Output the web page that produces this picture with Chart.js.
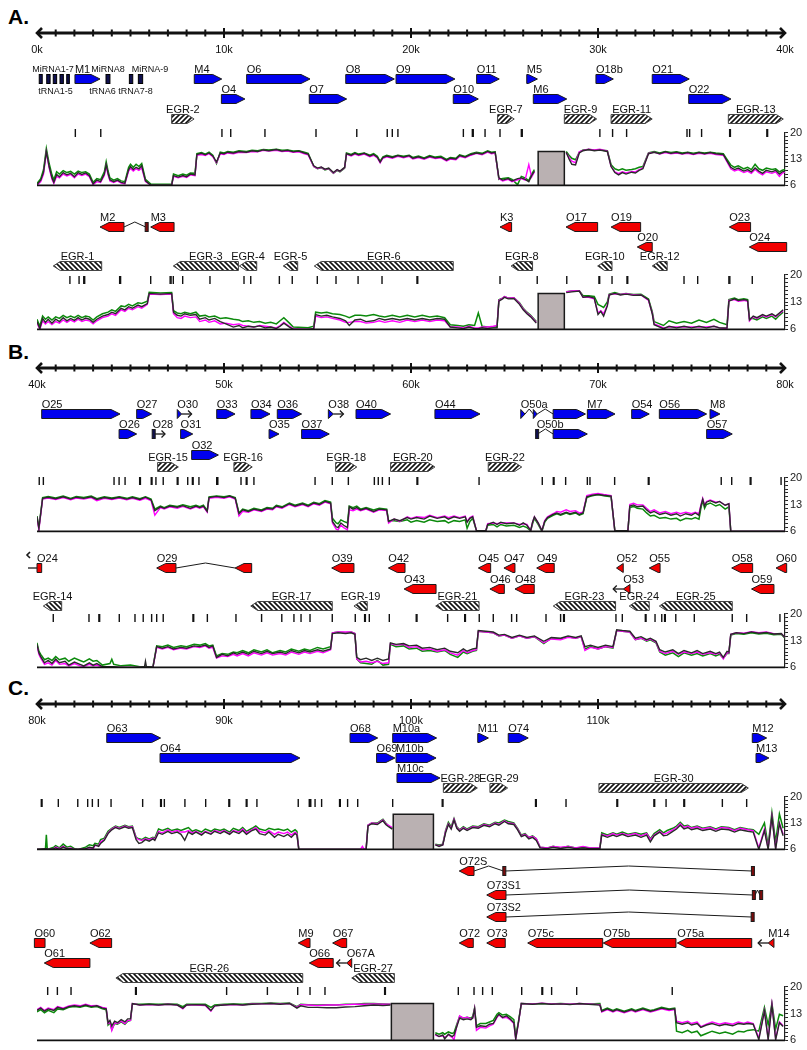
<!DOCTYPE html>
<html>
<head>
<meta charset="utf-8">
<script src="https://cdn.jsdelivr.net/npm/chart.js@4.4.1/dist/chart.umd.min.js"></script>
<style>
  body { margin: 0; background: #fff; }
  #page { position: relative; width: 807px; height: 1050px; background: #fff; overflow: hidden; }
  #page canvas { position: absolute; left: 0; }
  .panel { position: absolute; left: 8px; font: bold 21px "Liberation Sans", Arial, sans-serif; color: #000; }
</style>
</head>
<body>
<div id="page">
  <div class="panel" style="top:5px">A.</div>
  <div class="panel" style="top:340px">B.</div>
  <div class="panel" style="top:676px">C.</div>
</div>
<script>
// ---- data (positions in kb) ----
// genes: [name, row, start, end, (start, end ...), flags]
const fwdGenesA = [
  ['M1', 0, 2.03, 3.37], ['M4', 0, 8.41, 9.88], ['O6', 0, 11.21, 14.6], ['O8', 0, 16.51, 19.11],
  ['O9', 0, 19.2, 22.35], ['O11', 0, 23.51, 24.72], ['M5', 0, 26.19, 26.76], ['O18b', 0, 29.89, 30.82],
  ['O21', 0, 32.9, 34.88],
  ['O4', 1, 9.86, 11.12], ['O7', 1, 14.56, 16.56], ['O10', 1, 22.26, 23.6], ['M6', 1, 26.54, 28.33],
  ['O22', 1, 34.85, 37.11]
];
const rnaBoxesA = [[0.12, 0.28], [0.52, 0.7], [0.87, 1.05], [1.23, 1.41], [1.59, 1.73], [3.69, 3.9], [4.94, 5.12], [5.42, 5.65]];
const rnaLabelsA = [['MiRNA1-7', 0.85, 'above'], ['tRNA1-5', 0.99, 'below'], ['MiRNA8', 3.8, 'above'],
  ['tRNA6', 3.5, 'below'], ['MiRNA-9', 6.04, 'above'], ['tRNA7-8', 5.27, 'below']];
const fwdEgrA = [['EGR-2', 7.2, 8.4], ['EGR-7', 24.63, 25.52], ['EGR-9', 28.2, 29.93], ['EGR-11', 30.7, 32.9], ['EGR-13', 36.97, 39.91]];
const fwdMarksA = [2.05, 3.41, 9.89, 10.36, 12.19, 14.92, 17.1, 18.73, 19.0, 19.3, 22.8, 23.28, 23.33, 23.96, 24.76,
  25.9, 25.95, 30.1, 30.78, 31.53, 34.76, 34.9, 35.54, 37.04, 37.08, 39.03, 39.07];

const revGenesA = [
  ['M2', 0, 3.37, 4.65, 5.81, 5.92], ['M3', 0, 6.08, 7.33], ['K3', 0, 24.76, 25.38], ['O17', 0, 28.29, 29.98],
  ['O19', 0, 30.7, 32.28], ['O23', 0, 37.02, 38.16],
  ['O20', 1, 32.1, 32.9], ['O24', 1, 38.09, 40.09]
];
const revEgrA = [['EGR-1', 0.87, 3.46], ['EGR-3', 7.29, 10.77], ['EGR-4', 10.82, 11.75], ['EGR-5', 13.17, 13.94],
  ['EGR-6', 14.83, 22.26], ['EGR-8', 25.35, 26.5], ['EGR-10', 29.98, 30.75], ['EGR-12', 32.9, 33.7]];
const revMarksA = [1.76, 2.25, 2.5, 2.55, 4.42, 4.47, 6.08, 7.12, 7.17, 7.29, 7.79, 9.25, 11.07, 11.43, 12.96, 13.65,
  14.99, 15.99, 17.17, 18.45, 20.32, 20.36, 24.76, 26.75, 28.33, 30.05, 30.09, 30.75, 31.55, 31.59, 34.6, 35.33,
  37.0, 37.05, 38.25];

const fwdGenesB = [
  ['O25', 0, 40.25, 44.44], ['O27', 0, 45.33, 46.13], ['O30', 0, 47.5, 47.73, 'ptr'], ['O33', 0, 49.61, 50.59],
  ['O34', 0, 51.44, 52.46], ['O36', 0, 52.85, 54.15], ['O38', 0, 55.58, 55.85, 'ptr'], ['O40', 0, 57.06, 58.91],
  ['O44', 0, 61.28, 63.69], ['O50a', 0, 65.87, 66.1, 66.54, 66.75, 67.6, 69.33], ['M7', 0, 69.43, 70.91],
  ['O54', 0, 71.8, 72.74], ['O56', 0, 73.28, 75.81], ['M8', 0, 75.99, 76.52],
  ['O26', 1, 44.39, 45.33], ['O28', 1, 46.17, 46.31, 'ptr'], ['O31', 1, 47.68, 48.33], ['O35', 1, 52.41, 52.94],
  ['O37', 1, 54.15, 55.63], ['O50b', 1, 66.72, 66.77, 67.6, 69.43], ['O57', 1, 75.81, 77.18],
  ['O32', 2, 48.27, 49.7]
];
const fwdEgrB = [['EGR-15', 46.45, 47.56], ['EGR-16', 50.53, 51.51], ['EGR-18', 55.97, 57.1], ['EGR-20', 58.91, 61.28], ['EGR-22', 64.13, 65.92]];
const fwdMarksB = [40.12, 40.34, 44.12, 44.39, 44.71, 45.49, 45.53, 46.11, 46.15, 46.36, 46.75, 47.5, 47.54, 48.06,
  48.31, 48.35, 48.66, 49.61, 49.64, 49.67, 50.91, 51.19, 51.23, 51.6, 54.87, 55.79, 56.65, 58.04, 58.25, 58.47,
  58.84, 60.32, 60.36, 63.64, 67.02, 67.61, 67.65, 68.27, 69.43, 69.57, 70.89, 72.69, 72.73, 76.59, 77.15, 78.14,
  78.18, 79.79];

const revGenesB = [
  ['O24', 0, 40.0, 40.25, 'cont', 'stub'], ['O29', 0, 46.4, 47.43, 50.59, 51.48], ['O39', 0, 55.76, 56.95],
  ['O42', 0, 58.79, 59.68], ['O45', 0, 63.6, 64.26], ['O47', 0, 64.97, 65.56], ['O49', 0, 66.72, 67.66],
  ['O52', 0, 70.99, 71.35], ['O55', 0, 72.74, 73.32], ['O58', 0, 77.15, 78.27], ['O60', 0, 79.52, 80.09],
  ['O43', 1, 59.63, 61.34], ['O46', 1, 64.22, 64.99], ['O48', 1, 65.56, 66.59], ['O53', 1, 71.35, 71.71, 'ptr'],
  ['O59', 1, 78.21, 79.41]
];
const revEgrB = [['EGR-14', 40.34, 41.32], ['EGR-17', 51.43, 55.79], ['EGR-19', 56.95, 57.66], ['EGR-21', 61.32, 63.64],
  ['EGR-23', 67.61, 70.94], ['EGR-24', 71.67, 72.74], ['EGR-25', 73.28, 77.18]];
const revMarksB = [40.87, 42.78, 43.31, 43.35, 44.4, 45.24, 45.68, 46.13, 46.4, 46.75, 48.34, 48.38, 49.11, 50.64,
  52.01, 53.09, 53.74, 54.12, 54.6, 55.79, 57.02, 57.52, 57.56, 57.77, 58.84, 60.28, 60.32, 61.96, 62.87, 62.91,
  63.65, 64.4, 65.38, 65.65, 67.22, 68.0, 68.16, 68.2, 70.96, 71.3, 72.53, 72.57, 73.05, 73.41, 73.56, 73.6, 74.16,
  75.15, 77.18, 77.95, 79.73];

const fwdGenesC = [
  ['O63', 0, 83.73, 86.61], ['O68', 0, 96.74, 98.22], ['M10a', 0, 99.02, 101.37], ['M11', 0, 103.57, 104.14],
  ['O74', 0, 105.2, 106.27], ['M12', 0, 118.25, 119.02],
  ['O64', 1, 86.58, 94.06], ['O69', 1, 98.16, 99.14], ['M10b', 1, 99.2, 101.34], ['M13', 1, 118.45, 119.14],
  ['M10c', 2, 99.25, 101.55]
];
const fwdEgrC = [['EGR-28', 101.73, 103.55], ['EGR-29', 104.22, 105.17], ['EGR-30', 110.05, 118.04]];
const fwdMarksC = [80.23, 80.27, 81.14, 82.18, 82.71, 82.96, 83.28, 83.96, 85.65, 86.61, 86.65, 86.81, 87.91, 89.02,
  90.26, 90.3, 91.19, 91.23, 91.76, 93.97, 94.56, 94.6, 94.64, 94.87, 95.22, 96.18, 96.22, 96.61, 97.15, 99.02,
  101.67, 101.71, 106.66, 106.7, 108.29, 111.01, 111.05, 112.99, 113.03, 113.64, 114.59, 114.63, 116.65, 117.95];

const revGenesC = [
  ['O72S', 0, 102.58, 103.37, 104.94, 105.04, 118.23, 118.34],
  ['O73S1', 1, 104.05, 105.08, 118.27, 118.4, 118.66, 118.79],
  ['O73S2', 2, 104.05, 105.08, 118.2, 118.34],
  ['O60', 3, 79.86, 80.43, 'cont'], ['O62', 3, 82.83, 83.99], ['M9', 3, 93.97, 94.6], ['O67', 3, 95.81, 96.56],
  ['O72', 3, 102.58, 103.33], ['O73', 3, 104.05, 105.04], ['O75c', 3, 106.24, 110.25], ['O75b', 3, 110.28, 114.17],
  ['O75a', 3, 114.24, 118.22], ['M14', 3, 119.1, 119.41, 'ptr'],
  ['O61', 4, 80.39, 82.83], ['O66', 4, 94.56, 95.84], ['O67A', 4, 96.56, 96.83, 'ptr']
];
const revEgrC = [['EGR-26', 84.22, 94.21], ['EGR-27', 96.83, 99.11]];
const revMarksC = [80.57, 81.09, 81.82, 85.27, 85.31, 90.14, 92.32, 93.94, 94.6, 95.4, 98.59, 98.63, 102.53, 103.37,
  103.83, 104.35, 105.92, 107.0, 107.04, 107.52, 108.86, 113.97];

// profiles: [kb, black, green, magenta]
const fwdProfileA = [[0,6.2,6.5,6.0],[0.2,7.4,7.8,7.0],[0.35,9.5,10.2,9.0],[0.5,15.0,15.8,14.8],[0.65,11.0,11.8,10.6],
  [0.8,8.0,8.8,7.6],[0.9,6.8,7.5,6.5],[1.05,8.9,9.6,8.4],[1.2,8.3,9.0,8.0],[1.4,9.4,9.9,9.0],[1.6,8.8,9.4,8.5],
  [1.8,9.2,9.7,8.9],[2.0,8.3,9.0,8.0],[2.2,9.4,9.8,9.0],[2.4,8.9,9.4,8.6],[2.6,9.3,9.6,9.0],[2.8,8.6,9.0,8.3],
  [3.0,6.4,6.8,6.2],[3.2,7.4,7.8,7.0],[3.4,7.0,7.5,6.8],[3.6,9.0,9.6,8.6],[3.7,11.5,12.3,11.2],[3.8,9.2,9.8,8.8],
  [3.9,7.5,8.0,7.2],[4.1,7.0,7.4,6.8],[4.3,7.4,7.8,7.2],[4.5,6.8,7.2,6.6],[4.7,6.6,7.0,6.4],[4.9,10.2,10.8,9.8],
  [5.0,11.0,11.6,10.5],[5.15,10.2,10.8,9.8],[5.3,10.8,11.6,10.4],[5.45,10.4,11.0,10.0],[5.6,11.2,11.8,10.6],
  [5.8,7.2,7.6,7.0],[6.1,6.0,6.3,6.0],[7.2,6.0,6.3,6.0],[7.3,8.6,9.0,8.4],[7.55,8.2,8.6,8.0],[7.8,8.6,9.0,8.4],
  [8.0,8.3,8.7,8.1],[8.2,9.0,9.3,8.8],[8.45,8.8,9.2,8.6],[8.55,14.2,14.4,14.0],[8.8,14.5,14.7,14.2],[9.0,14.1,14.3,13.9],
  [9.2,14.6,14.8,14.4],[9.4,13.8,14.0,13.6],[9.6,12.2,11.8,12.0],[9.8,14.6,14.8,14.4],[10.0,14.4,14.6,14.2],
  [10.2,14.8,15.0,14.6],[10.5,14.6,14.8,14.4],[10.8,15.0,15.2,14.8],[11.2,14.8,15.0,14.7],[11.5,15.2,15.3,15.0],
  [11.8,15.0,15.2,14.9],[12.1,15.4,15.5,15.3],[12.4,15.2,15.4,15.1],[12.8,15.5,15.6,15.3],[13.1,15.1,15.3,15.0],
  [13.4,15.3,15.4,15.1],[13.7,14.9,15.1,14.8],[14.0,15.1,15.2,14.9],[14.3,14.6,14.8,14.4],[14.5,14.3,14.5,14.1],
  [14.8,11.2,11.0,11.0],[15.0,10.6,10.4,10.5],[15.2,10.9,10.7,10.8],[15.4,10.3,10.1,10.2],[15.6,10.6,10.4,10.5],
  [15.85,9.4,9.2,9.3],[16.05,10.2,10.0,10.1],[16.2,9.8,9.6,9.7],[16.45,10.8,10.6,10.7],[16.55,14.4,14.6,14.3],
  [16.8,14.0,14.2,13.8],[17.0,14.5,14.7,14.3],[17.2,14.1,14.3,13.9],[17.5,14.5,14.6,14.3],[17.8,13.8,14.0,13.6],
  [18.0,14.2,14.4,14.0],[18.2,13.5,13.7,13.3],[18.35,12.2,12.4,12.0],[18.5,13.4,13.6,13.2],[18.7,13.8,14.0,13.6],
  [19.0,13.4,13.6,13.2],[19.3,13.9,14.0,13.7],[19.6,13.5,13.7,13.3],[19.9,13.9,14.0,13.7],[20.1,13.2,13.4,13.0],
  [20.4,13.6,13.8,13.4],[20.7,13.1,13.3,12.9],[21.0,13.7,13.9,13.5],[21.3,13.3,13.5,13.1],[21.6,13.5,13.7,13.3],
  [21.9,12.7,12.9,12.5],[22.1,13.2,13.4,13.0],[22.4,13.0,13.2,12.8],[22.6,13.9,14.1,13.7],[22.9,13.5,13.7,13.3],
  [23.2,14.2,14.4,14.0],[23.5,14.6,14.8,14.5],[23.8,14.3,14.5,14.1],[24.1,15.0,15.2,14.8],[24.3,14.6,14.8,14.4],
  [24.5,14.8,14.9,14.6],[24.7,8.0,7.6,7.8],[24.9,7.4,7.8,7.2],[25.2,7.8,8.0,7.6],[25.4,7.2,7.6,7.0],[25.7,7.8,6.2,7.5],
  [25.9,8.0,8.4,7.8],[26.1,7.6,8.0,7.4],[26.3,7.0,7.3,11.5],[26.45,8.6,9.0,8.2],[26.6,9.8,10.2,9.6],[27.5,null,null,null],
  [28.3,14.8,15.0,14.6],[28.45,13.0,14.0,13.4],[28.6,11.6,13.2,12.4],[28.8,11.4,12.8,12.0],[29.0,14.6,14.8,14.9],
  [29.2,15.2,15.4,15.3],[29.5,15.5,15.5,15.6],[29.8,15.2,15.4,15.4],[30.1,15.4,15.4,15.6],[30.5,15.0,15.2,15.1],
  [30.7,11.0,11.5,11.0],[30.9,9.4,10.4,9.6],[31.1,8.8,10.0,9.1],[31.3,9.4,10.4,9.6],[31.5,9.0,10.0,9.3],
  [31.8,9.5,10.2,9.7],[32.0,9.3,10.4,9.6],[32.2,10.0,10.8,10.2],[32.4,10.4,11.0,10.6],[32.7,14.4,14.6,14.5],
  [33.0,14.8,15.0,14.8],[33.3,14.4,14.6,14.3],[33.6,14.9,15.0,14.7],[33.9,14.5,14.7,14.4],[34.2,14.8,14.9,14.6],
  [34.5,14.4,14.6,14.3],[34.8,14.7,14.8,14.5],[35.1,14.3,14.5,14.2],[35.4,14.7,14.8,14.5],[35.7,14.4,14.6,14.3],
  [36.0,14.7,14.8,14.5],[36.3,14.4,14.6,14.2],[36.7,14.2,14.4,14.0],[36.9,12.5,12.9,12.2],[37.1,10.8,11.4,10.4],
  [37.3,10.2,10.8,9.8],[37.5,10.6,11.2,10.2],[37.8,9.8,10.4,9.4],[38.0,10.2,10.8,9.8],[38.2,9.6,10.2,9.2],
  [38.4,10.6,11.6,10.2],[38.6,9.8,10.4,9.4],[38.8,9.2,10.0,8.8],[39.0,10.0,10.6,9.6],[39.3,9.6,10.2,9.2],
  [39.5,10.0,10.4,9.6],[39.7,9.0,9.6,8.4],[39.85,9.6,10.0,9.2],[40.0,9.8,10.2,9.6]];

const revProfileA = [[0,8.0,8.6,7.6],[0.15,6.2,6.8,6.0],[0.3,8.8,9.4,8.2],[0.45,7.8,8.6,7.4],[0.6,8.6,9.2,8.0],
  [0.8,7.6,8.4,7.2],[1.0,8.6,9.2,8.0],[1.2,8.0,8.8,7.6],[1.4,9.0,9.6,8.4],[1.6,8.2,9.0,7.8],[1.8,8.8,9.4,8.4],
  [2.0,8.3,9.0,7.9],[2.2,9.0,9.6,8.6],[2.4,8.4,9.0,8.0],[2.6,8.9,9.4,8.4],[2.8,8.6,9.2,8.2],[3.0,7.8,8.4,7.4],
  [3.2,8.6,9.2,8.2],[3.5,9.4,10.0,9.0],[3.8,9.8,10.4,9.4],[4.0,10.4,11.0,10.0],[4.2,10.0,10.6,9.6],[4.5,11.4,12.0,11.0],
  [4.7,11.0,11.8,10.6],[4.9,11.8,12.4,11.4],[5.1,11.4,12.0,11.0],[5.4,12.2,12.8,11.8],[5.6,11.8,12.6,11.4],
  [5.9,12.6,13.2,12.4],[6.0,15.2,15.5,15.0],[6.6,15.0,15.3,14.9],[7.2,15.2,15.4,15.0],[7.3,10.4,10.8,10.0],
  [7.5,9.6,10.2,9.0],[7.7,9.4,10.0,8.8],[7.9,10.0,10.4,9.4],[8.2,9.6,10.0,9.0],[8.5,9.8,10.4,9.2],[8.7,8.6,9.4,8.0],
  [9.0,9.0,9.6,8.4],[9.2,8.4,9.2,7.8],[9.5,8.8,9.4,8.2],[9.8,8.0,8.8,7.4],[10.1,7.4,9.0,7.6],[10.5,6.6,8.6,7.2],
  [10.8,7.0,8.4,7.4],[11.0,6.4,8.0,7.0],[11.3,6.8,8.2,6.8],[11.6,6.6,7.8,6.6],[11.9,6.9,8.0,7.0],[12.2,6.4,7.6,6.8],
  [12.5,6.6,7.8,6.6],[12.8,6.2,7.4,6.4],[13.0,6.8,8.2,7.0],[13.2,7.6,9.0,7.8],[13.5,6.6,7.6,6.8],[13.7,6.0,6.6,6.2],
  [14.5,6.0,6.4,6.0],[14.8,6.2,6.8,6.2],[14.9,9.8,10.4,9.4],[15.2,9.4,10.2,9.0],[15.5,9.6,10.4,9.2],[15.8,9.2,10.0,8.8],
  [16.2,8.8,9.8,8.4],[16.5,8.2,9.4,7.8],[16.7,7.0,9.0,7.8],[17.0,8.4,9.6,8.0],[17.3,8.6,9.6,8.0],[17.6,8.0,9.4,7.6],
  [18.0,8.2,9.8,7.8],[18.3,8.8,9.4,8.2],[18.6,8.4,9.2,7.8],[19.0,8.8,9.6,8.2],[19.4,8.4,9.2,7.8],[19.8,8.8,9.6,8.4],
  [20.2,8.4,9.2,8.0],[20.6,8.8,9.6,8.4],[21.0,8.4,9.2,8.0],[21.4,8.8,9.4,8.4],[21.8,8.6,9.0,8.2],[22.1,6.6,7.2,6.6],
  [22.5,6.4,7.0,6.6],[22.8,6.2,6.8,6.4],[23.1,6.6,7.2,6.8],[23.4,6.2,7.0,6.4],[23.6,6.2,10.2,6.4],[23.8,6.4,6.8,6.6],
  [24.1,6.2,6.6,6.6],[24.4,6.4,6.6,6.8],[24.6,6.4,6.6,7.0],[24.7,13.2,13.6,13.4],[24.9,13.8,14.0,14.0],
  [25.0,14.2,14.4,14.4],[25.2,13.8,14.0,14.0],[25.5,13.9,14.1,14.1],[25.8,12.4,12.8,12.6],[26.0,11.0,11.4,11.2],
  [26.2,10.0,10.4,10.2],[26.4,9.2,9.6,9.4],[26.7,7.6,8.0,7.8],[27.5,null,null,null],[28.3,15.4,15.6,15.6],
  [28.6,15.6,15.8,15.8],[29.0,15.8,15.9,15.9],[29.2,14.2,14.6,14.2],[29.5,14.4,14.6,14.2],[29.8,14.0,14.4,13.8],
  [30.0,9.8,12.4,10.2],[30.15,10.6,12.0,10.8],[30.3,9.4,11.6,10.0],[30.5,12.0,13.0,12.2],[30.6,14.8,15.0,14.9],
  [30.9,15.2,15.4,15.1],[31.2,14.8,15.0,14.9],[31.5,15.0,15.2,15.1],[31.9,14.7,14.9,14.8],[32.3,14.8,15.0,14.8],
  [32.7,13.6,13.8,13.4],[32.9,10.0,10.6,10.2],[33.0,7.2,8.0,7.4],[33.3,6.6,7.4,6.8],[33.5,6.2,7.0,6.4],
  [33.8,6.8,8.2,6.6],[34.2,6.4,7.6,6.6],[34.6,6.8,8.0,6.6],[35.0,6.4,7.6,6.6],[35.4,6.8,8.4,6.6],[35.8,6.4,7.8,6.6],
  [36.2,6.8,8.6,6.8],[36.5,6.4,7.8,6.4],[36.9,6.4,7.2,6.2],[37.0,13.2,13.6,13.4],[37.3,13.8,14.0,13.6],
  [37.5,13.4,13.6,13.2],[37.8,13.6,13.8,13.4],[38.0,13.4,13.6,13.2],[38.1,8.4,8.8,8.2],[38.3,9.4,8.8,9.2],
  [38.5,9.0,8.4,8.8],[38.8,9.8,9.2,9.6],[39.0,9.4,8.8,9.2],[39.3,10.0,9.4,9.8],[39.5,9.4,8.6,9.2],[39.7,10.2,9.6,10.0],
  [39.9,11.0,10.4,10.8]];

const fwdProfileB = [[40.0,9.8,10.0,9.6],[40.1,6.8,7.0,6.4],[40.3,14.6,14.8,14.4],[40.6,14.9,15.1,14.7],
  [41.0,14.5,14.7,14.3],[41.4,15.0,15.2,14.8],[41.8,14.4,14.6,14.2],[42.1,14.9,15.1,14.7],[42.5,14.6,14.8,14.4],
  [42.9,15.0,15.2,14.8],[43.2,14.3,14.5,14.0],[43.6,14.8,15.0,14.6],[44.0,14.5,14.7,14.3],[44.4,14.9,15.0,14.7],
  [44.8,14.4,14.6,14.2],[45.1,14.8,15.0,14.6],[45.5,14.3,14.5,14.1],[45.8,14.9,15.0,14.6],[46.1,14.2,14.4,14.0],
  [46.3,11.4,11.8,10.2],[46.6,12.4,12.6,12.2],[46.8,12.0,12.2,11.8],[47.1,12.6,12.8,12.4],[47.5,12.3,12.5,12.0],
  [47.8,12.7,12.9,12.5],[48.2,12.0,12.4,11.8],[48.5,12.6,12.8,12.4],[48.7,12.2,12.4,12.0],[48.9,12.6,12.8,12.4],
  [49.1,11.2,11.4,11.0],[49.2,14.8,15.0,14.6],[49.6,15.1,15.2,14.9],[50.0,14.8,15.0,14.6],[50.3,15.2,15.3,15.0],
  [50.6,14.6,14.8,14.4],[50.8,10.6,10.8,10.0],[51.0,11.6,11.8,11.2],[51.3,11.2,11.4,11.0],[51.6,11.8,12.0,11.6],
  [52.0,11.4,11.6,11.2],[52.3,12.0,12.2,11.8],[52.6,11.8,12.0,11.6],[52.8,12.6,12.8,12.4],[53.1,12.2,12.4,12.0],
  [53.5,13.2,13.4,13.0],[53.8,12.6,12.8,12.4],[54.2,13.2,13.4,13.0],[54.5,12.6,12.8,12.4],[54.8,13.4,13.6,13.2],
  [55.1,13.0,13.2,12.8],[55.4,13.8,14.0,13.6],[55.7,13.4,13.6,13.2],[55.8,8.6,9.4,8.2],[56.0,7.2,8.2,6.6],
  [56.1,7.0,8.0,6.4],[56.25,8.2,9.0,7.6],[56.4,7.6,8.6,7.0],[56.6,7.0,8.2,6.4],[56.7,12.4,12.6,11.6],
  [56.9,11.8,12.2,11.4],[57.1,12.2,12.6,11.8],[57.3,11.6,11.8,11.4],[57.6,12.0,12.2,11.8],[58.0,11.2,11.6,11.0],
  [58.3,11.8,12.0,11.6],[58.7,11.6,11.8,11.4],[58.8,8.6,8.8,8.2],[59.1,9.2,8.8,9.2],[59.4,8.8,8.6,8.6],
  [59.8,9.6,9.0,9.8],[60.0,9.2,8.4,9.4],[60.3,9.6,8.8,9.8],[60.7,9.2,8.4,9.6],[61.0,10.0,9.0,10.2],[61.4,9.4,8.6,9.6],
  [61.8,9.8,8.8,10.0],[62.0,9.2,8.2,9.6],[62.3,9.8,8.8,10.0],[62.6,9.4,8.6,9.6],[62.9,9.8,9.0,10.0],[63.0,8.4,6.8,8.6],
  [63.15,9.4,8.6,9.6],[63.3,9.8,9.4,10.0],[63.5,6.2,6.2,6.2],[64.0,6.2,6.0,6.2],[64.1,7.8,7.6,8.0],[64.4,8.4,7.8,8.2],
  [64.6,7.8,7.2,8.0],[64.8,8.4,7.8,8.2],[65.1,8.0,7.4,8.2],[65.5,8.2,7.6,8.2],[65.8,7.6,7.0,7.8],[66.0,8.2,7.4,8.0],
  [66.2,7.6,7.0,7.8],[66.4,6.2,6.2,6.2],[66.5,8.4,8.0,8.4],[66.6,9.8,9.4,9.8],[66.8,8.2,7.8,8.2],[67.0,6.2,6.0,6.2],
  [67.15,8.6,8.4,8.8],[67.3,9.6,9.4,9.8],[67.6,10.4,10.2,10.6],[67.8,10.8,10.6,11.2],[68.0,10.4,10.2,11.0],
  [68.3,11.0,10.8,11.6],[68.5,10.6,10.4,11.2],[68.8,11.0,10.8,11.4],[69.0,10.4,10.2,10.8],[69.2,10.8,10.6,11.0],
  [69.4,15.0,14.8,15.3],[69.7,15.4,15.3,15.7],[70.0,15.6,15.6,15.9],[70.3,15.4,15.3,15.6],[70.7,15.2,15.0,15.3],
  [70.9,6.2,6.2,6.0],[71.6,6.2,6.2,6.0],[71.7,12.6,12.2,13.0],[71.9,12.9,12.5,13.3],[72.1,12.4,12.0,12.9],
  [72.4,12.6,11.8,12.9],[72.6,11.6,10.8,12.0],[72.8,10.8,10.0,11.2],[73.0,11.2,10.2,11.6],[73.3,10.4,9.4,10.8],
  [73.6,10.8,9.6,11.2],[73.9,10.2,9.2,10.6],[74.2,10.6,9.4,11.0],[74.4,10.0,8.8,10.6],[74.7,10.6,9.4,11.0],
  [75.0,10.2,9.2,10.6],[75.2,10.8,9.6,11.0],[75.4,10.2,9.2,10.6],[75.5,12.6,12.0,12.8],[75.6,14.4,14.0,14.6],
  [75.7,12.6,12.0,12.8],[75.8,13.6,13.0,13.8],[76.0,14.0,13.4,14.2],[76.3,13.4,12.6,13.6],[76.5,13.8,13.0,13.8],
  [76.8,12.8,11.8,12.8],[77.0,13.2,12.4,13.2],[77.1,6.0,6.0,6.0],[80.0,6.0,6.0,6.0]];

const revProfileB = [[40.0,12.0,12.4,11.8],[40.1,9.8,10.2,9.4],[40.2,8.8,9.4,8.4],[40.4,7.2,8.0,6.8],[40.6,7.8,8.4,7.2],
  [40.8,7.0,7.8,6.6],[41.0,8.2,8.8,7.8],[41.2,7.2,8.0,6.8],[41.5,7.6,8.4,7.0],[41.7,6.6,7.6,6.4],[42.0,7.4,8.4,7.0],
  [42.3,6.8,7.8,6.4],[42.5,6.4,7.4,6.2],[42.8,7.2,8.2,6.8],[43.0,6.6,7.6,6.4],[43.2,7.0,7.8,6.6],[43.5,6.2,6.6,6.0],
  [43.9,6.2,7.0,6.0],[44.0,6.2,8.1,6.0],[44.1,6.2,6.8,6.0],[44.5,6.0,6.4,6.0],[45.0,6.0,6.6,6.0],[45.5,6.0,6.2,6.0],
  [45.75,6.2,6.2,6.0],[45.8,7.6,6.2,6.0],[45.85,6.2,6.2,6.0],[46.2,6.0,6.2,6.0],[46.4,11.4,11.6,11.2],
  [46.7,11.0,11.4,10.8],[47.0,11.4,11.8,11.2],[47.3,10.8,11.2,10.6],[47.7,11.2,11.6,11.0],[48.0,11.0,11.4,10.8],
  [48.4,11.6,12.0,11.4],[48.7,11.4,11.8,11.2],[49.0,11.8,12.2,11.6],[49.2,11.2,11.6,11.0],[49.4,11.6,11.8,11.2],
  [49.6,8.6,9.0,8.4],[49.9,9.4,9.6,9.0],[50.2,9.0,9.4,8.8],[50.5,9.8,10.0,9.4],[50.7,9.4,9.8,9.0],[51.0,10.0,10.4,9.6],
  [51.3,9.4,9.8,9.0],[51.6,10.2,10.6,9.8],[52.0,9.6,10.0,9.2],[52.3,10.2,10.6,9.8],[52.6,9.6,9.8,9.2],
  [53.0,10.0,10.4,9.6],[53.3,9.6,10.0,9.2],[53.6,10.4,10.8,10.0],[54.0,9.8,10.2,9.4],[54.3,10.4,10.8,10.0],
  [54.6,10.0,10.4,9.6],[55.0,10.6,11.2,10.2],[55.3,10.2,10.8,9.8],[55.7,10.8,11.4,10.6],[55.8,14.8,15.0,15.0],
  [56.1,15.0,15.2,15.2],[56.5,14.8,15.0,15.2],[56.8,15.0,15.2,15.2],[57.0,14.6,14.8,14.8],[57.1,8.6,8.2,8.2],
  [57.3,8.0,7.2,7.4],[57.6,8.4,7.0,7.6],[57.9,7.8,6.8,7.2],[58.2,8.4,7.8,7.6],[58.5,7.8,6.6,7.0],[58.8,8.2,6.8,7.2],
  [58.9,12.4,12.0,12.2],[59.2,12.0,11.4,11.8],[59.6,12.2,11.6,12.0],[59.9,11.6,10.8,11.2],[60.3,11.8,11.0,11.4],
  [60.6,11.0,10.2,10.6],[61.0,11.2,10.4,10.8],[61.4,10.6,10.0,10.2],[61.8,11.0,10.4,10.6],[62.1,10.2,9.4,9.8],
  [62.5,9.8,8.6,9.2],[62.8,10.8,10.0,10.4],[63.0,10.2,9.6,9.8],[63.3,10.8,10.2,10.4],[63.5,11.0,10.4,10.6],
  [63.6,15.6,15.4,15.4],[64.0,15.4,15.2,15.2],[64.4,15.2,15.0,15.0],[64.7,14.4,14.2,14.2],[65.0,14.6,14.4,14.4],
  [65.4,13.8,13.6,13.6],[65.8,14.4,14.2,14.2],[66.2,13.8,13.6,13.6],[66.6,14.2,14.0,14.0],[67.1,12.8,12.2,12.4],
  [67.5,13.8,13.6,13.4],[68.0,13.6,13.4,13.2],[68.4,14.2,14.0,13.8],[68.8,13.8,13.6,13.6],[69.1,14.2,14.0,14.0],
  [69.3,11.4,10.8,10.4],[69.6,11.8,11.4,11.2],[70.0,11.2,10.8,10.8],[70.4,11.8,11.4,11.4],[70.8,11.4,11.0,11.2],
  [71.0,15.8,15.6,15.6],[71.3,15.6,15.4,15.4],[71.7,15.4,15.2,15.2],[72.0,13.6,13.2,13.2],[72.3,14.0,13.6,13.6],
  [72.6,13.2,12.8,13.0],[72.8,13.6,13.2,13.4],[73.1,12.8,12.4,12.6],[73.3,10.6,10.0,10.2],[73.6,10.0,9.2,9.6],
  [74.0,10.6,9.8,10.2],[74.3,9.6,8.8,9.4],[74.6,10.4,9.8,10.0],[75.0,9.8,9.2,9.6],[75.3,10.4,9.6,10.0],
  [75.6,9.6,9.0,9.4],[76.0,10.2,9.6,9.8],[76.3,9.6,9.0,9.4],[76.5,10.0,9.4,9.8],[76.7,8.6,8.4,8.2],[76.9,10.2,9.6,9.8],
  [77.0,10.0,9.6,9.8],[77.1,14.6,14.4,14.6],[77.4,15.0,14.8,15.0],[77.8,14.8,14.6,14.9],[78.2,15.2,15.0,15.3],
  [78.6,14.9,14.7,15.0],[79.0,15.1,14.9,15.2],[79.4,14.7,14.5,14.8],[79.8,14.8,14.6,14.8],[80.0,13.8,13.6,13.8]];

const fwdProfileC = [[80.0,6.0,6.0,6.0],[80.45,6.2,6.0,6.0],[80.5,6.2,9.9,6.0],[80.55,6.0,6.0,6.0],[80.9,6.2,6.6,6.2],
  [81.0,6.4,7.0,6.6],[81.2,6.0,6.4,6.2],[81.4,6.6,7.4,6.8],[81.6,6.2,6.6,6.2],[81.8,6.2,6.8,6.4],[82.0,6.0,6.2,6.0],
  [82.2,6.0,6.0,6.0],[82.6,6.2,6.6,6.2],[82.8,6.6,7.2,6.4],[83.0,6.4,7.0,6.2],[83.1,7.2,7.6,7.0],[83.3,6.8,7.4,7.0],
  [83.4,7.6,8.6,8.0],[83.6,8.4,9.0,8.6],[83.8,10.2,10.8,10.4],[84.0,11.2,11.6,11.4],[84.2,11.8,12.2,12.0],
  [84.4,11.4,11.8,11.6],[84.7,12.0,12.4,12.2],[84.9,11.6,12.0,11.8],[85.1,11.8,12.2,12.0],[85.3,8.6,9.2,9.0],
  [85.45,7.6,8.8,8.6],[85.6,7.8,8.6,8.4],[85.8,8.6,9.2,8.8],[86.0,8.2,8.8,8.6],[86.2,8.8,9.2,9.0],[86.3,8.4,9.0,8.6],
  [86.5,10.4,11.4,10.8],[86.7,10.0,11.0,10.4],[87.0,10.8,11.6,11.2],[87.2,10.2,11.0,10.6],[87.5,10.6,11.4,11.0],
  [87.7,10.0,11.0,10.6],[87.9,8.4,11.4,10.6],[88.1,10.6,11.8,11.0],[88.3,10.0,10.8,10.4],[88.5,10.6,11.2,10.8],
  [88.8,9.8,10.6,10.0],[89.0,10.6,11.4,10.8],[89.3,10.0,10.8,10.2],[89.5,10.8,11.4,11.0],[89.8,10.2,11.0,10.6],
  [90.0,10.8,11.4,11.0],[90.3,10.0,10.6,10.2],[90.5,10.8,11.6,11.0],[90.8,10.2,11.0,10.6],[91.0,11.0,11.8,11.4],
  [91.2,10.0,10.8,10.4],[91.5,11.0,11.6,11.2],[91.7,11.4,12.2,11.8],[91.9,10.2,11.4,10.8],[92.2,9.8,11.0,10.4],
  [92.4,10.6,11.6,11.0],[92.7,9.2,11.2,10.0],[92.9,10.0,11.4,10.6],[93.2,9.4,11.0,10.2],[93.4,10.0,11.4,10.6],
  [93.6,9.2,10.6,9.8],[93.8,10.2,11.2,10.6],[93.9,9.8,10.8,10.2],[94.0,6.0,6.0,6.0],[97.3,6.0,6.0,6.0],
  [97.4,6.0,6.0,6.8],[97.5,6.0,6.0,6.0],[97.6,6.0,6.0,6.3],[97.7,12.2,12.4,12.4],[97.9,12.8,13.0,13.0],
  [98.2,12.6,13.0,12.8],[98.5,13.6,14.0,13.8],[98.65,12.6,13.0,12.8],[98.8,12.0,12.2,12.4],[99.0,11.4,11.6,11.8],
  [100.1,null,null,null],[101.3,7.2,7.4,7.2],[101.5,6.8,7.2,7.0],[101.7,7.2,7.4,7.2],[101.85,10.4,11.0,10.8],
  [102.0,12.6,13.2,12.8],[102.15,11.4,12.0,11.6],[102.3,13.8,14.2,14.0],[102.45,11.6,12.0,11.8],[102.6,10.8,11.2,11.0],
  [102.8,11.6,12.0,11.8],[103.0,11.0,11.4,11.2],[103.3,11.8,12.2,12.0],[103.6,11.6,12.0,11.8],[103.9,12.4,12.8,12.6],
  [104.2,12.0,12.4,12.2],[104.5,12.8,13.2,13.0],[104.7,12.4,13.0,12.6],[105.0,13.4,13.8,13.6],[105.2,12.8,13.4,13.0],
  [105.5,12.6,13.0,12.8],[105.7,11.2,11.6,11.4],[105.9,9.4,9.8,9.6],[106.1,9.8,10.2,10.0],[106.3,8.8,9.2,9.2],
  [106.5,9.2,9.6,9.4],[106.7,8.4,8.8,8.8],[106.9,6.4,6.6,6.6],[107.3,6.2,6.4,6.4],[107.6,6.6,6.8,6.8],
  [108.0,6.2,6.4,6.6],[108.4,6.6,6.8,6.8],[108.8,6.2,6.4,6.4],[109.2,6.4,6.6,6.8],[109.6,6.2,6.4,6.4],
  [110.1,6.2,6.4,6.4],[110.2,9.8,10.4,10.0],[110.5,9.2,9.8,9.6],[110.8,9.8,10.4,10.2],[111.0,9.4,10.0,9.8],
  [111.3,10.0,10.6,10.2],[111.6,9.4,10.0,9.8],[112.0,9.8,10.4,10.2],[112.3,9.2,10.0,9.6],[112.6,9.8,10.4,10.2],
  [112.8,8.0,8.8,8.6],[113.0,9.6,10.2,9.8],[113.3,10.6,11.2,10.8],[113.5,9.6,10.4,10.0],[113.7,9.8,11.0,10.4],
  [114.0,10.8,11.6,11.2],[114.2,11.4,12.2,11.8],[114.4,12.4,13.2,12.8],[114.6,11.4,12.2,11.8],[114.8,11.8,12.4,12.2],
  [115.0,11.2,11.8,11.6],[115.3,11.6,12.2,12.0],[115.6,11.0,11.6,11.4],[116.0,11.4,12.0,11.8],[116.3,10.8,11.4,11.2],
  [116.6,11.4,12.0,11.8],[117.0,11.2,11.8,11.6],[117.3,10.6,11.2,11.0],[117.6,11.2,11.8,11.6],[118.0,10.8,11.4,11.2],
  [118.3,10.6,11.2,11.0],[118.6,6.0,10.0,6.4],[118.9,11.0,13.0,11.4],[119.1,6.0,7.0,6.2],[119.3,14.6,15.8,14.8],
  [119.5,6.0,8.0,6.4],[119.7,12.8,15.4,13.0],[119.9,9.6,11.6,10.0]];

const revProfileC = [[80.0,13.8,13.4,14.0],[80.2,14.4,14.0,14.6],[80.4,13.6,13.2,13.8],[80.6,14.2,13.8,14.4],
  [80.9,13.8,13.2,14.0],[81.1,14.6,14.2,14.8],[81.4,14.2,14.0,14.4],[81.7,14.8,14.6,15.0],[82.0,15.0,14.8,15.2],
  [82.3,14.8,14.6,15.0],[82.6,15.2,15.0,15.4],[82.9,14.8,14.6,15.0],[83.2,15.0,14.8,15.1],[83.5,14.4,14.2,14.6],
  [83.7,14.2,14.0,14.4],[83.8,10.6,10.0,10.4],[83.9,11.2,10.6,10.8],[84.0,9.8,8.8,8.6],[84.15,11.0,10.4,10.6],
  [84.3,10.6,10.2,10.4],[84.5,11.4,10.8,11.0],[84.7,10.8,10.2,10.4],[84.85,11.6,11.0,11.2],[85.0,11.6,11.2,11.2],
  [85.1,15.6,15.4,15.6],[85.5,15.2,15.4,15.2],[86.0,15.4,15.5,15.3],[86.5,15.2,15.4,15.2],[87.0,15.4,15.5,15.4],
  [87.5,15.2,15.4,15.2],[87.8,14.4,14.8,14.2],[88.0,15.2,15.4,15.2],[88.5,15.3,15.4,15.2],[89.0,15.2,15.4,15.1],
  [89.3,13.8,14.6,13.6],[89.5,15.0,15.2,15.0],[90.0,15.2,15.4,15.2],[90.5,15.4,15.5,15.3],[91.0,15.2,15.4,15.2],
  [91.5,15.4,15.6,15.5],[92.0,15.5,15.6,15.5],[92.5,15.6,15.7,15.6],[93.0,15.4,15.6,15.5],[93.5,15.6,15.7,15.6],
  [93.9,14.4,14.8,14.6],[94.1,15.0,15.4,15.3],[94.5,14.6,15.3,15.2],[95.0,14.6,15.2,15.1],[95.5,14.5,15.3,15.2],
  [96.0,14.5,15.2,15.2],[96.5,14.7,15.4,15.3],[97.0,14.8,15.4,15.4],[97.5,15.0,15.6,15.4],[98.0,15.2,15.6,15.5],
  [98.5,15.1,15.5,15.4],[98.9,15.2,15.4,15.4],[100.1,null,null,null],[101.3,7.6,8.0,7.4],[101.5,7.0,7.6,7.0],
  [101.7,7.4,8.0,7.2],[101.8,6.4,7.6,6.8],[102.0,7.6,8.2,7.4],[102.2,7.0,7.8,6.8],[102.3,7.4,8.0,6.2],
  [102.45,9.6,10.2,9.8],[102.6,11.8,12.2,12.4],[102.8,11.4,11.8,11.8],[103.0,11.6,12.0,12.0],[103.2,11.4,11.8,11.6],
  [103.3,11.8,12.2,11.8],[103.4,14.2,14.4,14.3],[103.5,9.4,9.8,8.6],[103.7,9.8,10.4,9.4],[104.0,9.6,10.4,9.2],
  [104.2,10.2,10.8,9.8],[104.4,10.4,11.2,10.2],[104.6,12.2,12.8,12.0],[104.7,12.8,13.2,12.6],[104.9,12.0,12.6,11.8],
  [105.1,12.4,12.8,12.0],[105.3,11.6,12.2,11.4],[105.5,10.6,11.4,10.4],[105.6,6.4,7.0,6.2],[105.75,10.8,11.0,10.6],
  [105.9,15.6,15.6,15.6],[106.5,15.4,15.5,15.5],[107.0,15.6,15.6,15.7],[107.5,15.4,15.5,15.5],[108.0,15.5,15.6,15.5],
  [108.5,15.3,15.5,15.4],[109.0,15.6,15.5,15.6],[109.5,15.4,15.5,15.5],[110.1,15.2,15.6,15.3],[110.2,13.6,13.8,13.4],
  [110.5,14.2,14.4,14.0],[110.8,13.6,13.8,13.4],[111.0,14.0,14.2,13.8],[111.4,13.4,13.6,13.2],[111.8,14.0,14.2,13.8],
  [112.0,13.6,13.8,13.4],[112.4,14.2,14.4,14.0],[112.8,13.6,13.8,13.4],[113.0,13.8,14.0,13.6],[113.4,14.4,14.6,14.2],
  [113.8,14.0,14.2,13.8],[114.1,14.2,14.4,14.0],[114.2,10.6,8.4,11.0],[114.5,10.2,8.0,10.6],[114.8,10.6,8.6,11.0],
  [115.0,10.0,8.0,10.4],[115.3,10.4,8.4,10.8],[115.5,9.4,7.2,9.6],[115.8,10.0,7.8,10.2],[116.1,10.4,8.4,10.8],
  [116.5,9.8,7.8,10.2],[116.8,10.2,8.2,10.6],[117.2,9.8,7.6,10.2],[117.5,10.4,8.4,10.8],[117.8,10.2,8.2,10.4],
  [118.0,10.4,8.6,10.8],[118.3,10.2,8.8,10.4],[118.6,6.2,8.4,6.6],[118.9,13.6,14.6,13.8],[119.1,6.2,10.0,6.4],
  [119.3,15.2,15.6,15.4],[119.5,6.2,9.0,6.4],[119.7,10.6,12.8,10.8],[119.9,9.6,12.4,9.8]];

// sequence gaps: [start kb, end kb, height]
const fwdGapsA = [[26.8, 28.2, 15.0]];
const revGapsA = [[26.8, 28.2, 15.2]];
const fwdGapsC = [[99.05, 101.2, 15.3]];
const revGapsC = [[98.95, 101.2, 15.6]];

const yTicksShown = [6, 13, 20];

// ---- drawing ----
const FONT = '"Liberation Sans", Arial, sans-serif';
Chart.defaults.font.family = FONT;
const page = document.getElementById('page');
const BLUE = '#0000ee', NAVY = '#10104e', RED = '#f20000', MAROON = '#7a0b0b';
const LABEL_FONT = '11px ' + FONT;

function addCanvas(top, height) {
  const c = document.createElement('canvas');
  c.width = 807; c.height = height;
  c.style.top = top + 'px';
  c.style.width = '807px'; c.style.height = height + 'px';
  page.appendChild(c);
  return c;
}

const baseOpts = {
  responsive: false, animation: false, devicePixelRatio: 1,
  plugins: { legend: { display: false }, tooltip: { enabled: false } }
};

function makeHatch(ctx, dir) {
  const p = document.createElement('canvas');
  p.width = 5; p.height = 5;
  const c = p.getContext('2d');
  c.fillStyle = '#fff'; c.fillRect(0, 0, 5, 5);
  c.strokeStyle = '#111'; c.lineWidth = 1.6;
  c.beginPath();
  if (dir > 0) {
    c.moveTo(-1, 6); c.lineTo(6, -1); c.moveTo(-3, 3); c.lineTo(3, -3); c.moveTo(2, 8); c.lineTo(8, 2);
  } else {
    c.moveTo(-1, -1); c.lineTo(6, 6); c.moveTo(-3, 2); c.lineTo(3, 8); c.moveTo(2, -3); c.lineTo(8, 3);
  }
  c.stroke();
  return ctx.createPattern(p, 'repeat');
}

function arrowPath(ctx, x0, x1, yc, dir, h, head) {
  const hd = Math.min(head, x1 - x0), t = yc - h / 2, b = yc + h / 2;
  ctx.beginPath();
  if (dir > 0) {
    ctx.moveTo(x0, t); ctx.lineTo(x1 - hd, t); ctx.lineTo(x1, yc); ctx.lineTo(x1 - hd, b); ctx.lineTo(x0, b);
  } else {
    ctx.moveTo(x1, t); ctx.lineTo(x0 + hd, t); ctx.lineTo(x0, yc); ctx.lineTo(x0 + hd, b); ctx.lineTo(x1, b);
  }
  ctx.closePath();
}

function parseGene(g) {
  const out = { name: g[0], row: g[1], exons: [], flags: [] };
  for (let i = 2; i < g.length; i++) {
    if (typeof g[i] === 'number') { out.exons.push([g[i], g[i + 1]]); i++; }
    else out.flags.push(g[i]);
  }
  return out;
}

function chevron(ctx, x, y, dir, s) {
  ctx.beginPath();
  ctx.moveTo(x - dir * s, y - s); ctx.lineTo(x, y); ctx.lineTo(x - dir * s, y + s);
  ctx.stroke();
}

function drawGene(ctx, X, yc, gene, dir) {
  const h = 9;
  ctx.strokeStyle = '#1a1a1a'; ctx.lineWidth = 1;
  // introns
  for (let i = 0; i < gene.exons.length - 1; i++) {
    const a = X(gene.exons[i][1]), b = X(gene.exons[i + 1][0]);
    ctx.beginPath(); ctx.moveTo(a, yc); ctx.lineTo((a + b) / 2, yc - 5); ctx.lineTo(b, yc); ctx.stroke();
  }
  gene.exons.forEach(([s, e]) => {
    const x0 = X(s), x1 = X(e);
    if (x1 - x0 < 3) {
      ctx.fillStyle = dir > 0 ? NAVY : MAROON;
      ctx.fillRect((x0 + x1) / 2 - 1.5, yc - h / 2, 3, h);
      ctx.strokeRect((x0 + x1) / 2 - 1.5, yc - h / 2, 3, h);
    } else {
      if (gene.flags.includes('cont')) {
        ctx.beginPath(); ctx.rect(x0, yc - h / 2, x1 - x0, h);
      } else arrowPath(ctx, x0, x1, yc, dir, h, 9);
      ctx.fillStyle = dir > 0 ? BLUE : RED;
      ctx.fill(); ctx.stroke();
    }
  });
  const first = X(gene.exons[0][0]), last = X(gene.exons[gene.exons.length - 1][1]);
  if (gene.flags.includes('ptr')) {
    ctx.lineWidth = 1.3;
    const a = dir > 0 ? last : first, b = a + dir * 10;
    ctx.beginPath(); ctx.moveTo(a, yc); ctx.lineTo(b, yc); ctx.stroke();
    chevron(ctx, b, yc, dir, 3.5);
  }
  if (gene.flags.includes('stub')) {
    ctx.lineWidth = 1.3;
    ctx.beginPath(); ctx.moveTo(first - 9, yc); ctx.lineTo(first, yc); ctx.stroke();
    ctx.lineWidth = 1.6;
    chevron(ctx, first - 10, yc - 13, -1, 3);
  }
  ctx.fillStyle = '#111'; ctx.font = LABEL_FONT;
  ctx.textAlign = 'left'; ctx.textBaseline = 'alphabetic';
  ctx.fillText(gene.name, first, yc - h / 2 - 2);
}

function drawTrack(chart, cfg) {
  const ctx = chart.ctx, xs = chart.scales.x, ys = chart.scales.y;
  const X = v => xs.getPixelForValue(v), Y = v => ys.getPixelForValue(v);
  ctx.save();
  // small RNA boxes
  if (cfg.rna) {
    const yc = Y(cfg.rows[0]);
    ctx.fillStyle = NAVY; ctx.strokeStyle = '#000'; ctx.lineWidth = 1;
    cfg.rna.boxes.forEach(([s, e]) => {
      ctx.fillRect(X(s), yc - 4.5, X(e) - X(s), 9);
      ctx.strokeRect(X(s), yc - 4.5, X(e) - X(s), 9);
    });
    ctx.fillStyle = '#111'; ctx.font = '9px ' + FONT; ctx.textAlign = 'center';
    cfg.rna.labels.forEach(([t, k, pos]) => ctx.fillText(t, X(k), pos === 'above' ? yc - 7 : yc + 15));
  }
  cfg.genes.map(parseGene).forEach(g => drawGene(ctx, X, Y(cfg.rows[g.row]), g, cfg.dir));
  // EGR regions
  const pat = makeHatch(ctx, cfg.dir);
  const ye = Y(cfg.egrLane);
  cfg.egr.forEach(([name, s, e]) => {
    const x0 = X(s), x1 = X(e);
    arrowPath(ctx, x0, x1, ye, cfg.dir, 9, 7);
    ctx.fillStyle = pat; ctx.fill();
    ctx.strokeStyle = '#444'; ctx.lineWidth = 1; ctx.stroke();
    ctx.fillStyle = '#111'; ctx.font = LABEL_FONT; ctx.textAlign = 'center';
    ctx.fillText(name, (x0 + x1) / 2, ye - 6.5);
  });
  // marks
  const ym = Y(cfg.marksLane);
  ctx.strokeStyle = '#111'; ctx.lineWidth = 1.4;
  cfg.marks.forEach(k => {
    const x = X(k);
    ctx.beginPath(); ctx.moveTo(x, ym - 4); ctx.lineTo(x, ym + 4); ctx.stroke();
  });
  ctx.restore();
}

function makeTrack(cfg) {
  const cv = addCanvas(cfg.top, cfg.height);
  new Chart(cv, {
    type: 'scatter',
    data: { datasets: [] },
    options: Object.assign({}, baseOpts, {
      layout: { padding: { left: 37, right: 22, top: 0, bottom: 0 } },
      scales: {
        x: { type: 'linear', display: false, min: cfg.start, max: cfg.start + 40 },
        y: { type: 'linear', display: false, min: 0, max: cfg.height / 20, reverse: true }
      }
    }),
    plugins: [{ id: 'genes', afterDraw: chart => drawTrack(chart, cfg) }]
  });
}

const rulerPlugin = {
  id: 'ruler',
  afterDraw(chart) {
    const ctx = chart.ctx, xs = chart.scales.x, y = chart.chartArea.bottom;
    ctx.save();
    ctx.strokeStyle = '#111'; ctx.lineWidth = 3;
    ctx.beginPath(); ctx.moveTo(xs.left, y); ctx.lineTo(xs.right, y); ctx.stroke();
    ctx.lineWidth = 2;
    xs.ticks.forEach(t => {
      if (t.value === xs.min || t.value === xs.max) return;
      const x = xs.getPixelForValue(t.value), h = t.value % 10 === 0 ? 5 : 3.5;
      ctx.beginPath(); ctx.moveTo(x, y - h); ctx.lineTo(x, y + h); ctx.stroke();
    });
    ctx.lineWidth = 2.6;
    chevron(ctx, xs.left, y, -1, 5);
    chevron(ctx, xs.right, y, 1, 5);
    ctx.restore();
  }
};

function makeRuler(y, start, endLabel) {
  const cv = addCanvas(y - 12, 32);
  new Chart(cv, {
    type: 'scatter',
    data: { datasets: [] },
    options: Object.assign({}, baseOpts, {
      layout: { padding: { left: 37, right: 22, top: 0, bottom: 0 } },
      scales: {
        x: {
          type: 'linear', min: start, max: start + 40,
          afterFit: s => { s.height = 20; },
          grid: { display: false }, border: { display: false },
          ticks: {
            stepSize: 1, autoSkip: false, maxRotation: 0, padding: 2, color: '#111', font: { size: 11 },
            callback: v => (v % 10 === 0 && (endLabel || v < start + 40)) ? v + 'k' : ''
          }
        },
        y: { display: false, min: 0, max: 1 }
      }
    }),
    plugins: [rulerPlugin]
  });
}

const baselinePlugin = {
  id: 'baseline',
  afterDatasetsDraw(chart) {
    const { ctx, chartArea: a } = chart;
    ctx.save(); ctx.strokeStyle = '#111'; ctx.lineWidth = 1.6;
    ctx.beginPath(); ctx.moveTo(a.left, a.bottom); ctx.lineTo(a.right, a.bottom); ctx.stroke();
    ctx.restore();
  }
};

function makePlot(cfg) {
  const cv = addCanvas(cfg.y20 - 8, cfg.y6 - cfg.y20 + 16);
  const series = (col) => cfg.profile.map(r => ({ x: r[0], y: r[col] }));
  const line = (col, color, w) => ({
    data: series(col), borderColor: color, borderWidth: w, pointRadius: 0, tension: 0, fill: false, spanGaps: false
  });
  const gapSets = (cfg.gaps || []).map(([s, e, top]) => ({
    data: [{ x: s, y: 6 }, { x: s, y: top }, { x: e, y: top }, { x: e, y: 6 }],
    borderColor: '#1a1a1a', borderWidth: 1.5, backgroundColor: '#bab1b2', fill: 'start', pointRadius: 0, tension: 0
  }));
  new Chart(cv, {
    type: 'line',
    data: { datasets: [...gapSets, line(1, '#2a2a2a', 1.4), line(3, '#ff00ff', 1.4), line(2, '#0b8a0b', 1.5)] },
    options: Object.assign({}, baseOpts, {
      layout: { padding: { left: 37, right: 0, top: 8, bottom: 8 } },
      scales: {
        x: { type: 'linear', display: false, min: cfg.start, max: cfg.start + 40 },
        y: {
          position: 'right', min: 6, max: 20,
          afterFit: s => { s.width = 22; },
          border: { display: true, color: '#222', width: 1.2 },
          grid: { drawOnChartArea: false, drawTicks: true, tickLength: 3, color: '#222' },
          ticks: {
            stepSize: 1, autoSkip: false, padding: 2, color: '#222', font: { size: 11 },
            callback: v => yTicksShown.includes(v) ? String(v) : ''
          }
        }
      }
    }),
    plugins: [baselinePlugin]
  });
}

// ---- panel A ----
makeRuler(33, 0, true);
makeTrack({ top: 49, height: 100, start: 0, dir: 1, genes: fwdGenesA, egr: fwdEgrA, marks: fwdMarksA,
  rows: [1.5, 2.5], egrLane: 3.5, marksLane: 4.2, rna: { boxes: rnaBoxesA, labels: rnaLabelsA } });
makePlot({ y20: 132, y6: 186, start: 0, profile: fwdProfileA, gaps: fwdGapsA });
makeTrack({ top: 197, height: 100, start: 0, dir: -1, genes: revGenesA, egr: revEgrA, marks: revMarksA,
  rows: [1.5, 2.5], egrLane: 3.45, marksLane: 4.15 });
makePlot({ y20: 274, y6: 330, start: 0, profile: revProfileA, gaps: revGapsA });

// ---- panel B ----
makeRuler(368, 40, true);
makeTrack({ top: 384, height: 110, start: 40, dir: 1, genes: fwdGenesB, egr: fwdEgrB, marks: fwdMarksB,
  rows: [1.5, 2.5, 3.55], egrLane: 4.15, marksLane: 4.85 });
makePlot({ y20: 477, y6: 532, start: 40, profile: fwdProfileB });
makeTrack({ top: 538, height: 100, start: 40, dir: -1, genes: revGenesB, egr: revEgrB, marks: revMarksB,
  rows: [1.5, 2.55], egrLane: 3.4, marksLane: 4.0 });
makePlot({ y20: 613, y6: 668, start: 40, profile: revProfileB });

// ---- panel C ----
makeRuler(704, 80, false);
makeTrack({ top: 708, height: 110, start: 80, dir: 1, genes: fwdGenesC, egr: fwdEgrC, marks: fwdMarksC,
  rows: [1.5, 2.5, 3.5], egrLane: 4.0, marksLane: 4.75 });
makePlot({ y20: 796, y6: 850, start: 80, profile: fwdProfileC, gaps: fwdGapsC });
makeTrack({ top: 840, height: 170, start: 80, dir: -1, genes: revGenesC, egr: revEgrC, marks: revMarksC,
  rows: [1.55, 2.75, 3.85, 5.15, 6.15], egrLane: 6.9, marksLane: 7.55 });
makePlot({ y20: 986, y6: 1041, start: 80, profile: revProfileC, gaps: revGapsC });
</script>
</body>
</html>
